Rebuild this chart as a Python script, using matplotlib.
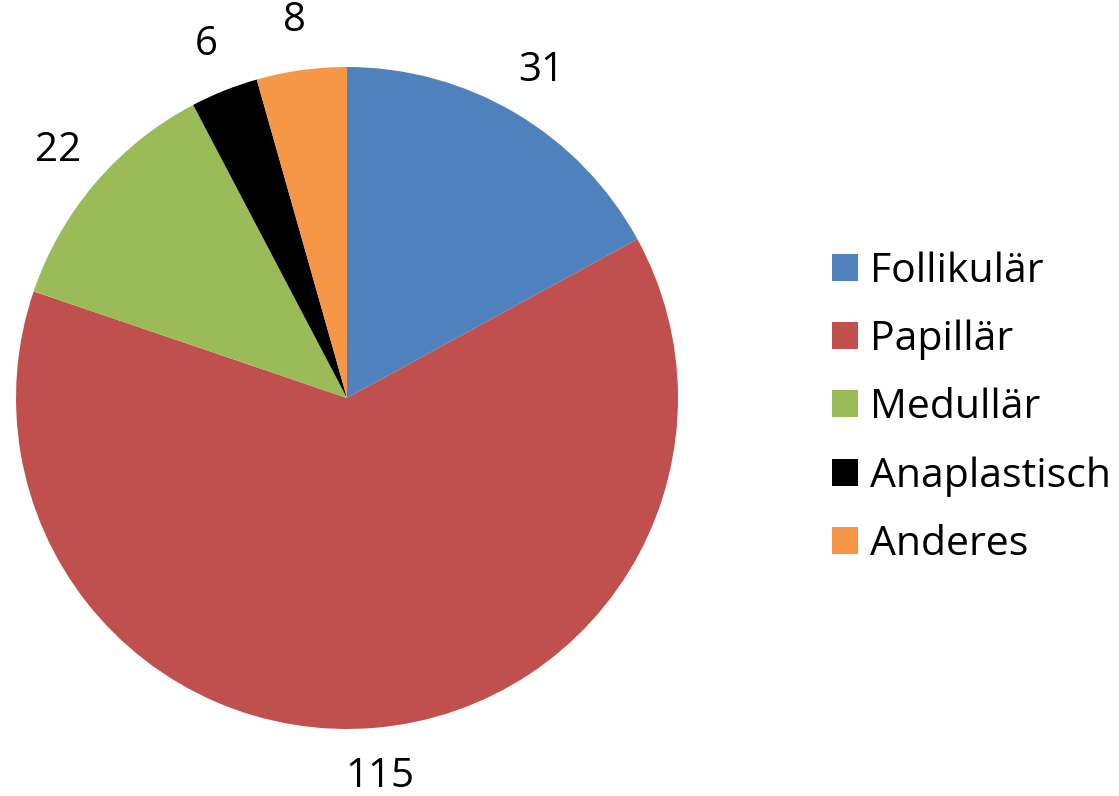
import numpy as np
import matplotlib
matplotlib.use("Agg")
import matplotlib.pyplot as plt

plt.rcParams['font.family'] = ['Open Sans', 'DejaVu Sans']

categories = ['Follikulär', 'Papillär', 'Medullär', 'Anaplastisch', 'Anderes']
counts = [31, 115, 22, 6, 8]
colors = ['#4F81BD', '#C0504D', '#9BBB59', '#000000', '#F79646']

W, H = 1119, 796
fig = plt.figure(figsize=(W / 100, H / 100), dpi=100)

# pie centre (347, 398) px from top-left, radius 331 px
cx, cy, r = 347, 398, 331
ax = fig.add_axes([(cx - r) / W, (H - cy - r) / H, 2 * r / W, 2 * r / H])
wedges, _ = ax.pie(counts, colors=colors, startangle=90, counterclock=False,
                   radius=1, wedgeprops=dict(linewidth=0))
ax.set_xlim(-1, 1)
ax.set_ylim(-1, 1)
ax.set_aspect('equal')
ax.axis('off')

# value labels outside each slice
for w, v in zip(wedges, counts):
    mid = np.deg2rad((w.theta1 + w.theta2) / 2)
    d = 1.15
    ax.text(d * np.cos(mid), d * np.sin(mid), str(v), ha='center', va='center',
            fontsize=29, clip_on=False)

fig.legend(wedges, categories, loc='center left',
           bbox_to_anchor=(832 / W, (H - 408) / H), frameon=False,
           fontsize=29.5, handlelength=0.63, handleheight=0.63,
           handletextpad=0.3, labelspacing=0.68, borderpad=0, borderaxespad=0)

fig.savefig('out.png', dpi=100)
